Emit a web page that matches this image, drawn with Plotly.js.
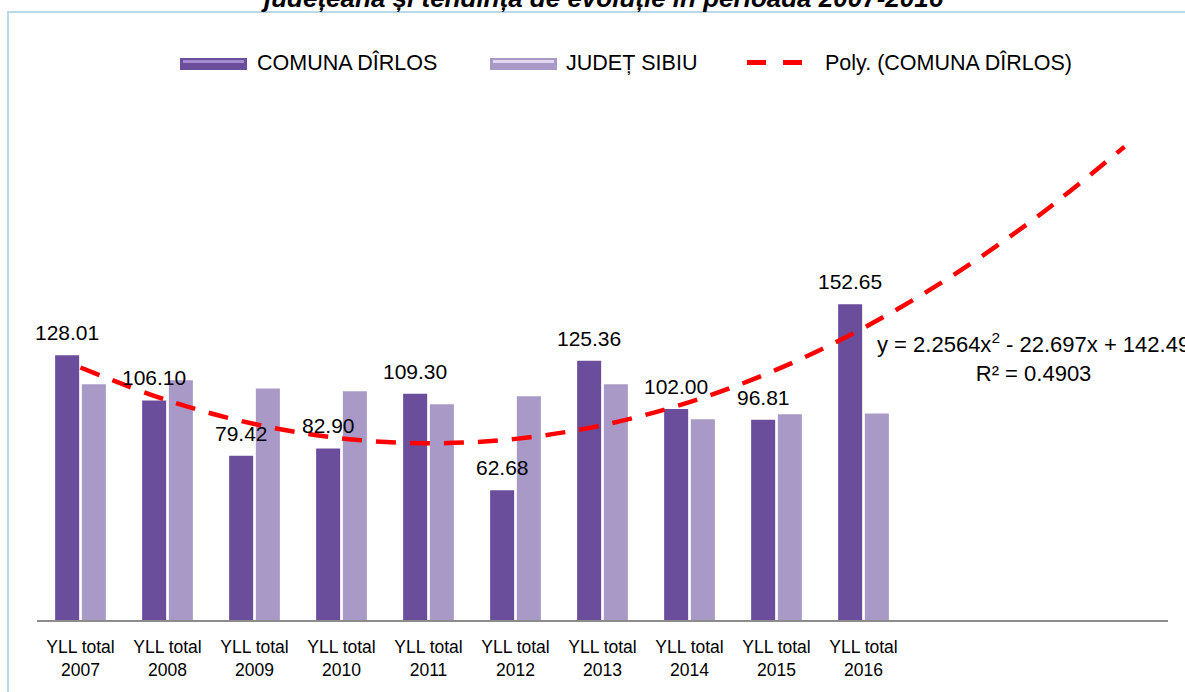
<!DOCTYPE html>
<html>
<head>
<meta charset="utf-8">
<script src="https://cdn.plot.ly/plotly-3.0.1.min.js"></script>
<style>
html,body{margin:0;padding:0;background:#ffffff;}
#chart{width:1185px;height:692px;}
</style>
</head>
<body>
<div id="chart"></div>
<script>
// ---------- data ----------
const years = ['2007','2008','2009','2010','2011','2012','2013','2014','2015','2016'];
const tickLabels = years.map(y => 'YLL total<br>' + y);
const comunaValues = [128.01, 106.10, 79.42, 82.90, 109.30, 62.68, 125.36, 102.00, 96.81, 152.65];
const judetValues  = [114.0, 115.9, 111.9, 110.6, 104.3, 108.2, 114.0, 97.0, 99.4, 99.8];
// polynomial trendline of the commune series (values as drawn, incl. 3 forecast periods)
const trendValues  = [122.05, 106.12, 94.71, 87.80, 85.42, 87.54, 94.18, 105.32, 120.99, 141.16, 165.85, 195.05, 228.76];
const seriesNames  = ['COMUNA DÎRLOS', 'JUDEȚ SIBIU', 'Poly. (COMUNA DÎRLOS)'];
const equationLines = ['y = 2.2564x<sup>2</sup> - 22.697x + 142.49', 'R² = 0.4903'];
const titleText = 'județeana și tendința de evoluție în perioada 2007-2016';

// ---------- layout helpers ----------
const W = 1185, H = 692;
const M = {l: 37, r: 17, t: 20, b: 72};
const PW = W - M.l - M.r, PH = H - M.t - M.b;
const px2x = p => (p - M.l) / PW;
const py2y = p => (H - M.b - p) / PH;

const FONT = 'Liberation Sans, Arial, sans-serif';
const C_COMUNA = '#6b4e9b';
const C_JUDET = '#a899c6';
const C_TREND = '#ff0000';
const BARGAP = 0.386, GROUPGAP = 0.1;

const idx = years.map((_, i) => i);
const trendX = trendValues.map((_, i) => i);

const traces = [
  {type: 'bar', name: seriesNames[0], x: idx, y: comunaValues,
   marker: {color: C_COMUNA}, showlegend: false, hoverinfo: 'skip'},
  {type: 'bar', name: seriesNames[1], x: idx, y: judetValues,
   marker: {color: C_JUDET}, showlegend: false, hoverinfo: 'skip'},
  {type: 'scatter', mode: 'lines', name: seriesNames[2], x: trendX, y: trendValues,
   line: {color: C_TREND, width: 4.5, dash: '20px,14px', shape: 'spline'},
   showlegend: false, hoverinfo: 'skip'}
];

const slot = (1 - BARGAP) / 2;
const annotations = [];
comunaValues.forEach((v, i) => {
  annotations.push({xref: 'x', yref: 'y', x: i - slot / 2, y: v, text: v.toFixed(2),
    showarrow: false, xanchor: 'center', yanchor: 'bottom', yshift: 9,
    font: {family: FONT, size: 21, color: '#000'}});
});
// title (cut at top of the image, as in the source)
annotations.push({xref: 'paper', yref: 'paper', x: px2x(602), y: py2y(-2), text: '<b><i>' + titleText + '</i></b>',
  showarrow: false, xanchor: 'center', yanchor: 'middle',
  font: {family: FONT, size: 26, color: '#000'}});
// equation
annotations.push({xref: 'paper', yref: 'paper', x: px2x(1033), y: py2y(357.5), text: equationLines.join('<br>'),
  showarrow: false, xanchor: 'center', yanchor: 'middle', align: 'center',
  font: {family: FONT, size: 22, color: '#000'}});
// custom legend texts
const legendItems = [
  {x: 255, text: seriesNames[0]},
  {x: 564, text: seriesNames[1]},
  {x: 823, text: seriesNames[2]}
];
legendItems.forEach(it => annotations.push({xref: 'paper', yref: 'paper', x: px2x(it.x), y: py2y(63),
  text: it.text, showarrow: false, xanchor: 'left', yanchor: 'middle',
  font: {family: FONT, size: 21.5, color: '#000'}}));

const shapes = [
  // outer frame
  {type: 'rect', xref: 'paper', yref: 'paper', x0: px2x(8), x1: px2x(1230), y0: py2y(740), y1: py2y(12),
   line: {color: '#bcd8e6', width: 2}, fillcolor: 'rgba(0,0,0,0)', layer: 'below'},
  // legend symbols
  {type: 'rect', xref: 'paper', yref: 'paper', x0: px2x(180), x1: px2x(247), y0: py2y(70), y1: py2y(58),
   line: {width: 0}, fillcolor: C_COMUNA},
  {type: 'rect', xref: 'paper', yref: 'paper', x0: px2x(183), x1: px2x(244), y0: py2y(63), y1: py2y(60),
   line: {width: 0}, fillcolor: '#a58bd0'},
  {type: 'rect', xref: 'paper', yref: 'paper', x0: px2x(490), x1: px2x(557), y0: py2y(70), y1: py2y(58),
   line: {width: 0}, fillcolor: C_JUDET},
  {type: 'rect', xref: 'paper', yref: 'paper', x0: px2x(493), x1: px2x(554), y0: py2y(63), y1: py2y(60),
   line: {width: 0}, fillcolor: '#e2d8f2'},
  {type: 'line', xref: 'paper', yref: 'paper', x0: px2x(747), x1: px2x(805), y0: py2y(62.5), y1: py2y(62.5),
   line: {color: C_TREND, width: 5, dash: '19px,17px'}}
];

const layout = {
  width: W, height: H,
  margin: M,
  paper_bgcolor: '#ffffff', plot_bgcolor: '#ffffff',
  barmode: 'group', bargap: BARGAP, bargroupgap: GROUPGAP,
  showlegend: false,
  font: {family: FONT, color: '#000'},
  xaxis: {range: [-0.5, 12.5], tickmode: 'array', tickvals: idx, ticktext: tickLabels,
    showline: true, linecolor: '#8c8c8c', linewidth: 2, showgrid: false, zeroline: false,
    ticks: '', ticklabelstandoff: 10, tickfont: {family: FONT, size: 17.5, color: '#000'}, fixedrange: true},
  yaxis: {range: [0, 290], visible: false, showgrid: false, zeroline: false, fixedrange: true},
  annotations: annotations,
  shapes: shapes
};

Plotly.newPlot('chart', traces, layout, {displayModeBar: false, staticPlot: true});
</script>
</body>
</html>
